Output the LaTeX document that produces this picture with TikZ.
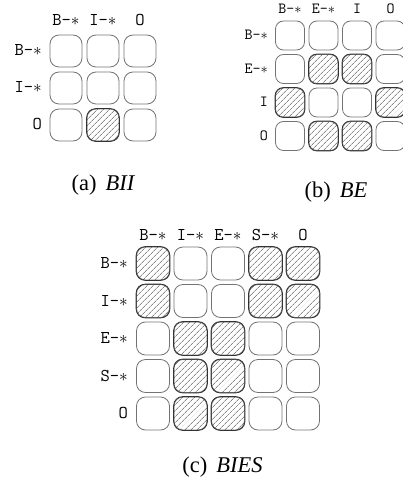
\documentclass[tikz,border=0pt]{standalone}
\usepackage{fontspec}
\setmainfont{Liberation Serif}
\usetikzlibrary{patterns.meta}

\newcommand{\wild}{\ensuremath{\ast}}

\tikzset{
  tag/.style={inner sep=0pt, font=\ttfamily\fontsize{18}{19}\selectfont},
  smalltag/.style={inner sep=0pt, font=\ttfamily\fontsize{15.5}{16}\selectfont},
  cell/.style={draw=black!55, line width=0.8pt, rounded corners=9pt, inner sep=0pt},
  hit/.style={draw=black!80, line width=0.8pt, pattern={Lines[angle=45,distance=4pt,line width=0.5pt]}, pattern color=black!70},
  subcap/.style={inner sep=0pt, font=\fontsize{22.5}{24}\selectfont}
}

\begin{document}
\begin{tikzpicture}[x=1pt,y=-1pt]
\clip (0,0) rectangle (403,486);

% (a) BII
\foreach \lab [count=\i] in {B-\wild,I-\wild,O} {
  \node[tag, anchor=base] (ah\i) at ({29+37*\i},26) {\lab};
  \node[tag, anchor=base east] (ar\i) at (42,{19+37*\i}) {\lab};
}
\foreach \j in {1,2,3}
  \foreach \i in {1,2,3}
    \node[cell, minimum size=32pt] (a-\j-\i) at ({29+37*\i},{14+37*\j}) {};
\foreach \p in {3-2}
  \draw[hit, rounded corners=9pt] (a-\p.south west) rectangle (a-\p.north east);
\node[subcap] (capa) at (103.5,185) {(a)\hspace{0.4em}\textit{BII}};

% (b) BE
\foreach \lab [count=\i] in {B-\wild,E-\wild,I,O} {
  \node[smalltag, anchor=base] (bh\i) at ({256.5+33.5*\i},13.5) {\lab};
  \node[smalltag, anchor=base east] (br\i) at (268,{6.5+33.5*\i}) {\lab};
}
\foreach \j in {1,...,4}
  \foreach \i in {1,...,4}
    \node[cell, rounded corners=8pt, minimum size=29pt] (b-\j-\i) at ({256.5+33.5*\i},{2+33.5*\j}) {};
\foreach \p in {2-2,2-3,3-1,3-4,4-2,4-3}
  \draw[hit, rounded corners=8pt] (b-\p.south west) rectangle (b-\p.north east);
\node[subcap] (capb) at (336,192) {(b)\hspace{0.4em}\textit{BE}};

% (c) BIES
\foreach \lab [count=\i] in {B-\wild,I-\wild,E-\wild,S-\wild,O} {
  \node[tag, anchor=base] (ch\i) at ({115.5+37.5*\i},240) {\lab};
  \node[tag, anchor=base east] (cr\i) at (128,{231+37.5*\i}) {\lab};
}
\foreach \j in {1,...,5}
  \foreach \i in {1,...,5}
    \node[cell, minimum size=33pt] (c-\j-\i) at ({115.5+37.5*\i},{226+37.5*\j}) {};
\foreach \p in {1-1,1-4,1-5,2-1,2-4,2-5,3-2,3-3,4-2,4-3,5-2,5-3}
  \draw[hit, rounded corners=9pt] (c-\p.south west) rectangle (c-\p.north east);
\node[subcap] (capc) at (222.5,467) {(c)\hspace{0.4em}\textit{BIES}};
\end{tikzpicture}
\end{document}
